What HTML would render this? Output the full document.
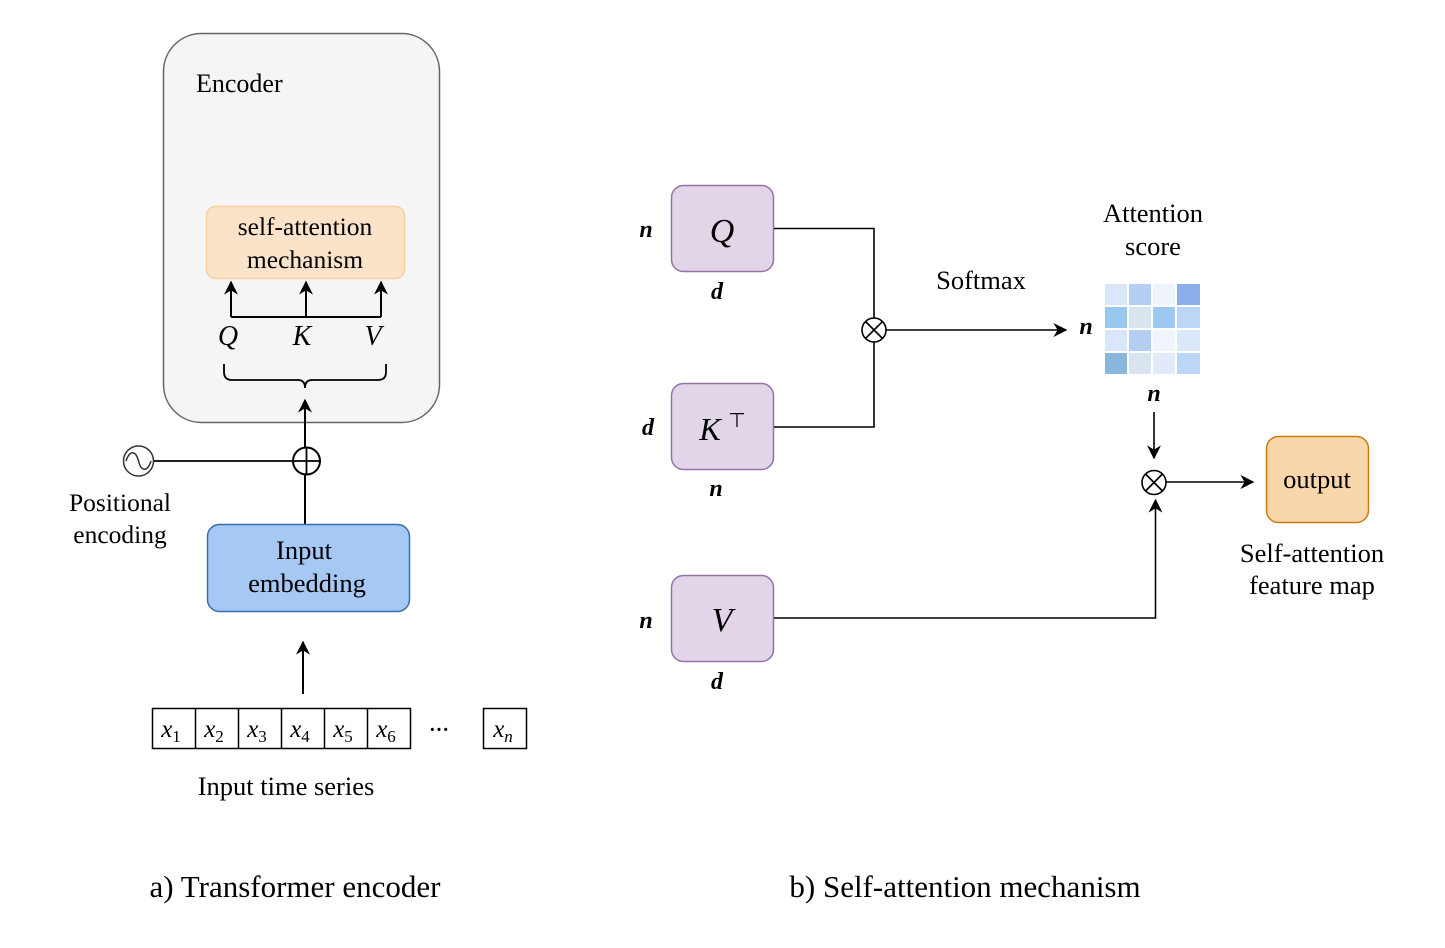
<!DOCTYPE html>
<html><head><meta charset="utf-8"><style>
html,body{margin:0;padding:0;background:#fff;}
svg{display:block;}
text{font-family:"Liberation Serif",serif;fill:#000;}
.m{font-family:"Liberation Serif",serif;font-style:italic;}
</style></head><body>
<svg width="1445" height="948" viewBox="0 0 1445 948" xmlns="http://www.w3.org/2000/svg">
<defs>
<marker id="b" viewBox="0 0 10 10" refX="9" refY="5" markerWidth="14" markerHeight="14" markerUnits="userSpaceOnUse" orient="auto"><path d="M0,0 L10,5 L0,10 L3,5 z" fill="#000"/></marker>
</defs>
<rect x="163.5" y="33.5" width="276" height="389" rx="38" fill="#f5f5f5" stroke="#666" stroke-width="1.5"/>
<text x="196" y="92" font-size="26">Encoder</text>
<rect x="206.5" y="206.5" width="198" height="72" rx="9" fill="#fae3c8" stroke="#f8cf9d" stroke-width="1.5"/>
<text x="305" y="235" font-size="25.5" text-anchor="middle">self-attention</text>
<text x="305" y="268" font-size="25.5" text-anchor="middle">mechanism</text>
<g stroke="#000" stroke-width="2" fill="none">
<path d="M231,317 H381"/>
<path d="M231,317 V282" marker-end="url(#b)"/>
<path d="M306,317 V282" marker-end="url(#b)"/>
<path d="M381,317 V282" marker-end="url(#b)"/>
<path d="M224,364 V372 Q224,380 232,380 H298 Q305,380 305,388 Q305,380 312,380 H378 Q386,380 386,372 V364" stroke-width="1.8"/>
<path d="M305,524 V400" marker-end="url(#b)"/>
<path d="M154,461 H293" stroke-width="1.8"/>
<circle cx="306.5" cy="461" r="13.5" fill="#fff"/>
<path d="M293,461 H320 M306.5,447.5 V474.5" stroke-width="1.8"/>
<circle cx="138.5" cy="461" r="15" stroke="#333" stroke-width="1.5"/>
<path d="M126,461 C130,449 136,451 138.5,461 C141,471 147,473 151,461" stroke="#333" stroke-width="1.5"/>
<path d="M303,694 V642" marker-end="url(#b)"/>
</g>
<text x="228" y="345" font-size="28" class="m" text-anchor="middle">Q</text>
<text x="302" y="345" font-size="28" class="m" text-anchor="middle">K</text>
<text x="373" y="345" font-size="28" class="m" text-anchor="middle">V</text>
<text x="120" y="511" font-size="25.5" text-anchor="middle">Positional</text>
<text x="120" y="543" font-size="25.5" text-anchor="middle">encoding</text>
<rect x="207.5" y="524.5" width="202" height="87" rx="12" fill="#a5c8f5" stroke="#3e6aad" stroke-width="1.5"/>
<text x="304" y="559" font-size="26.5" text-anchor="middle">Input</text>
<text x="307" y="592" font-size="26.5" text-anchor="middle">embedding</text>
<g fill="none" stroke="#000" stroke-width="1.5">
<rect x="152.5" y="708.5" width="258" height="40"/>
<path d="M195.5,708 V749 M238.5,708 V749 M281.5,708 V749 M324.5,708 V749 M367.5,708 V749"/>
<rect x="483.5" y="708.5" width="43" height="40"/>
</g>
<g font-size="25" class="m" text-anchor="middle">
<text x="171" y="737">x<tspan font-size="17" font-style="normal" dy="5">1</tspan></text>
<text x="214" y="737">x<tspan font-size="17" font-style="normal" dy="5">2</tspan></text>
<text x="257" y="737">x<tspan font-size="17" font-style="normal" dy="5">3</tspan></text>
<text x="300" y="737">x<tspan font-size="17" font-style="normal" dy="5">4</tspan></text>
<text x="343" y="737">x<tspan font-size="17" font-style="normal" dy="5">5</tspan></text>
<text x="386" y="737">x<tspan font-size="17" font-style="normal" dy="5">6</tspan></text>
<text x="503" y="737">x<tspan font-size="17" dy="5">n</tspan></text>
</g>
<text x="439" y="736" font-size="20" text-anchor="middle" font-weight="bold">···</text>
<text x="286" y="795" font-size="26.5" text-anchor="middle">Input time series</text>
<text x="295" y="897" font-size="31" text-anchor="middle">a) Transformer encoder</text>
<text x="965" y="897" font-size="31" text-anchor="middle">b) Self-attention mechanism</text>
<g fill="#e1d5e7" stroke="#9673a6" stroke-width="1.5">
<rect x="671.5" y="185.5" width="102" height="86" rx="12"/>
<rect x="671.5" y="383.5" width="102" height="86" rx="12"/>
<rect x="671.5" y="575.5" width="102" height="86" rx="12"/>
</g>
<text x="722" y="242" font-size="34" class="m" text-anchor="middle">Q</text>
<text x="710" y="440" font-size="32" class="m" text-anchor="middle">K</text>
<text x="737" y="427" font-size="20" text-anchor="middle" font-family="DejaVu Sans">⊤</text>
<text x="722" y="631" font-size="34" class="m" text-anchor="middle">V</text>
<g font-size="24" class="m" text-anchor="middle" font-weight="bold">
<text x="646" y="237">n</text><text x="717" y="299">d</text>
<text x="648" y="435">d</text><text x="716" y="496">n</text>
<text x="646" y="628">n</text><text x="717" y="689">d</text>
<text x="1086" y="334">n</text><text x="1154" y="401">n</text>
</g>
<g stroke="#000" stroke-width="1.6" fill="none">
<path d="M774,228.5 H874 V318"/>
<path d="M774,427 H874 V342"/>
<path d="M886,330 H1066" marker-end="url(#b)"/>
<circle cx="874" cy="330" r="12" fill="#fff"/>
<path d="M865.5,321.5 L882.5,338.5 M882.5,321.5 L865.5,338.5"/>
<path d="M1154,412 V458" marker-end="url(#b)"/>
<path d="M774,618 H1155.5 V500" marker-end="url(#b)"/>
<path d="M1166,482 H1253" marker-end="url(#b)"/>
<circle cx="1154" cy="482.5" r="12" fill="#fff"/>
<path d="M1145.5,474 L1162.5,491 M1162.5,474 L1145.5,491"/>
</g>
<text x="981" y="289" font-size="26.5" text-anchor="middle">Softmax</text>
<text x="1153" y="222" font-size="26.5" text-anchor="middle">Attention</text>
<text x="1153" y="255" font-size="26.5" text-anchor="middle">score</text>
<g>
<rect x="1105" y="284" width="22" height="21" fill="#dae7fb"/><rect x="1129" y="284" width="22" height="21" fill="#b5cff2"/><rect x="1153" y="284" width="22" height="21" fill="#eef3fd"/><rect x="1177" y="284" width="23" height="21" fill="#89aee9"/>
<rect x="1105" y="307" width="22" height="21" fill="#98c8ee"/><rect x="1129" y="307" width="22" height="21" fill="#d8e4ef"/><rect x="1153" y="307" width="22" height="21" fill="#9ec8f3"/><rect x="1177" y="307" width="23" height="21" fill="#bcd6f7"/>
<rect x="1105" y="330" width="22" height="21" fill="#dae7fb"/><rect x="1129" y="330" width="22" height="21" fill="#b5cff2"/><rect x="1153" y="330" width="22" height="21" fill="#f0f4fd"/><rect x="1177" y="330" width="23" height="21" fill="#dbe8f9"/>
<rect x="1105" y="353" width="22" height="21" fill="#89b6dc"/><rect x="1129" y="353" width="22" height="21" fill="#d8e4ef"/><rect x="1153" y="353" width="22" height="21" fill="#e1eaf8"/><rect x="1177" y="353" width="23" height="21" fill="#bcd6f7"/>
</g>
<rect x="1266.5" y="436.5" width="102" height="86" rx="12" fill="#fad7ab" stroke="#c97d17" stroke-width="1.5"/>
<text x="1317" y="488" font-size="26.5" text-anchor="middle">output</text>
<text x="1312" y="562" font-size="26.5" text-anchor="middle">Self-attention</text>
<text x="1312" y="594" font-size="26.5" text-anchor="middle">feature map</text>
</svg>
</body></html>
